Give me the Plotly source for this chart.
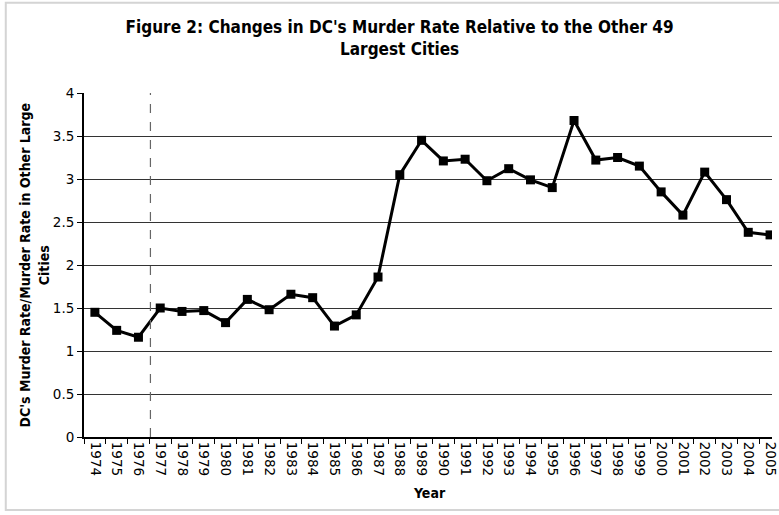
import plotly.graph_objects as go

years = [str(y) for y in range(1974, 2006)]
ratio = [1.45, 1.24, 1.16, 1.50, 1.46, 1.47, 1.33, 1.60, 1.48, 1.66, 1.62, 1.29, 1.42,
         1.86, 3.05, 3.45, 3.21, 3.23, 2.98, 3.12, 2.99, 2.90, 3.68, 3.22, 3.25, 3.15,
         2.85, 2.58, 3.08, 2.76, 2.38, 2.35]
y_ticks = [0, 0.5, 1, 1.5, 2, 2.5, 3, 3.5, 4]
y_ticktext = ["0", "0.5", "1", "1.5", "2", "2.5", "3", "3.5", "4"]
divider_position = 2.55  # between 1976 and 1977

BOLD_FONT = "DejaVu Sans Condensed"

fig = go.Figure()
fig.add_trace(go.Scatter(
    x=years, y=ratio, mode="lines+markers",
    line=dict(color="black", width=3),
    marker=dict(symbol="square", size=9, color="black"),
    showlegend=False,
))

fig.add_shape(type="line", xref="x", yref="paper", x0=divider_position, x1=divider_position,
              y0=0, y1=1, line=dict(color="#666666", width=1.2, dash="dash"))
fig.add_shape(type="rect", xref="paper", yref="paper", x0=-0.1137, x1=1.02, y0=-0.212, y1=1.262,
              line=dict(color="#d4d4d4", width=2), layer="below")

fig.update_layout(
    width=779, height=515,
    margin=dict(l=84, r=0, t=93, b=78),
    paper_bgcolor="white", plot_bgcolor="white",
    font=dict(family="DejaVu Sans", color="black", size=13),
    title=dict(
        text="<b>Figure 2: Changes in DC's Murder Rate Relative to the Other 49<br>Largest Cities</b>",
        x=0.513, xref="container", xanchor="center",
        y=1 - 33 / 515, yref="container", yanchor="top",
        font=dict(family=BOLD_FONT, size=17, color="black"),
    ),
    xaxis=dict(
        type="category", range=[-0.5, 31.09],
        tickson="boundaries", ticks="outside", ticklen=5, tickcolor="black",
        tickangle=90, tickfont=dict(size=13.5),
        showline=True, linecolor="black", linewidth=2,
        showgrid=False, zeroline=False,
    ),
    yaxis=dict(
        range=[0, 4], tickvals=y_ticks, ticktext=y_ticktext,
        ticks="outside", ticklen=5, tickcolor="black", tickfont=dict(size=13.5),
        showline=True, linecolor="black", linewidth=2,
        showgrid=True, gridcolor="#333333", gridwidth=1, zeroline=False,
    ),
    annotations=[
        dict(text="<b>DC's Murder Rate/Murder Rate in Other Large<br>Cities</b>",
             xref="paper", yref="paper", x=-0.072, y=0.5, xanchor="center", yanchor="middle",
             textangle=-90, showarrow=False,
             font=dict(family=BOLD_FONT, size=14, color="black")),
        dict(text="<b>Year</b>", xref="paper", yref="paper", x=0.502, y=-0.163,
             xanchor="center", yanchor="middle", showarrow=False,
             font=dict(family=BOLD_FONT, size=14, color="black")),
    ],
)

fig.write_html("out.html", config={"displayModeBar": False},
               post_script="document.body.style.margin='0';")
